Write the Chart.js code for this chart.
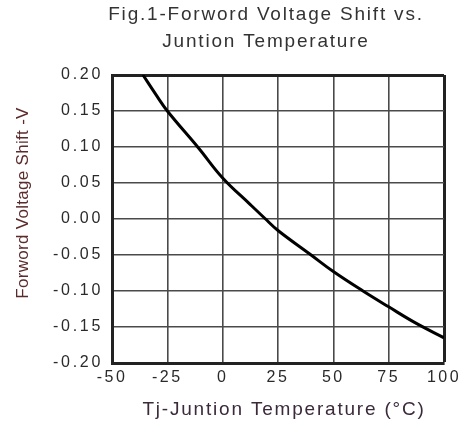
<!DOCTYPE html>
<html>
<head>
<meta charset="utf-8">
<script src="https://cdn.jsdelivr.net/npm/chart.js@4.4.1/dist/chart.umd.min.js"></script>
<style>
html,body{margin:0;padding:0;background:#fff;}
canvas{display:block;}
</style>
</head>
<body>
<canvas id="c" width="468" height="427"></canvas>
<script>
// ---- data ----
const titleLines = ['Fig.1-Forword Voltage Shift vs.', 'Juntion Temperature'];
const xAxisTitle = 'Tj-Juntion Temperature (°C)';
const yAxisTitle = 'Forword Voltage Shift -V';

const temperatures = [-36, -30, -25, -11, 0, 12.5, 19, 25, 39.5, 50, 63.4, 75, 87.5, 100];
const voltageShift = [0.200, 0.172, 0.150, 0.099, 0.057, 0.020, 0.001, -0.016, -0.049, -0.073, -0.100, -0.122, -0.145, -0.165];

const xTickValues = [-50, -25, 0, 25, 50, 75, 100];
const xTickLabels = ['-50', '-25', '0', '25', '50', '75', '100'];
const yTickValues = [-0.20, -0.15, -0.10, -0.05, 0.00, 0.05, 0.10, 0.15, 0.20];
const yTickLabels = ['-0.20', '-0.15', '-0.10', '-0.05', '0.00', '0.05', '0.10', '0.15', '0.20'];

const FONT = "'Liberation Sans', Arial, sans-serif";

function wrapDraw(obj, name, spacing, dx, dy) {
  const key = '__wrapped_' + name;
  if (obj[key]) return;
  obj[key] = true;
  const orig = obj[name];
  obj[name] = function (...args) {
    const ctx = this.ctx;
    ctx.save();
    try { ctx.letterSpacing = spacing; } catch (e) {}
    ctx.translate(dx, dy);
    const r = orig.apply(this, args);
    ctx.restore();
    return r;
  };
}

const textStylePlugin = {
  id: 'textStyle',
  afterLayout(chart) {
    const x = chart.scales.x, y = chart.scales.y;
    wrapDraw(x, 'drawLabels', '2.5px', 0, 0);
    wrapDraw(x, 'drawTitle', '1.8px', 6, 0);
    wrapDraw(y, 'drawLabels', '2.7px', 0, 0);
    wrapDraw(y, 'drawTitle', '0.3px', 0, -16);
    if (chart.titleBlock) wrapDraw(chart.titleBlock, 'draw', '1.8px', -12, 0);
  }
};

new Chart(document.getElementById('c'), {
  type: 'line',
  data: {
    datasets: [{
      data: temperatures.map((t, i) => ({ x: t, y: voltageShift[i] })),
      borderColor: '#000',
      borderWidth: 3,
      pointRadius: 0,
      fill: false,
      tension: 0.4
    }]
  },
  options: {
    responsive: false,
    animation: false,
    devicePixelRatio: 1,
    layout: { padding: { left: 6, right: 24, top: 0, bottom: 4 } },
    plugins: {
      legend: { display: false },
      tooltip: { enabled: false },
      title: {
        display: true,
        text: titleLines,
        fullSize: false,
        color: '#333',
        font: { family: FONT, size: 19, weight: 'normal', lineHeight: '27.5px' },
        padding: { top: 0.75, bottom: 19.25 }
      }
    },
    scales: {
      x: {
        type: 'linear',
        position: 'bottom',
        min: -50,
        max: 100,
        afterBuildTicks: s => { s.ticks = xTickValues.map(v => ({ value: v })); },
        afterFit: s => { s.height = 60; },
        ticks: {
          callback: (v, i) => xTickLabels[i],
          color: '#2a2a2a',
          font: { family: FONT, size: 16 },
          padding: 5,
          maxRotation: 0
        },
        grid: {
          drawTicks: false,
          color: c => (c.tick && c.tick.value === 100) ? '#222' : '#4a4a4a',
          lineWidth: c => (c.tick && c.tick.value === 100) ? 3 : 1.6
        },
        border: { display: true, color: '#222', width: 3 },
        title: {
          display: true,
          text: xAxisTitle,
          color: '#3a2a3a',
          font: { family: FONT, size: 19 },
          padding: { top: 0, bottom: 1.6 }
        }
      },
      y: {
        type: 'linear',
        min: -0.2,
        max: 0.2,
        afterBuildTicks: s => { s.ticks = yTickValues.map(v => ({ value: v })); },
        afterFit: s => { s.width = 106; },
        ticks: {
          callback: (v, i) => yTickLabels[i],
          color: '#2a2a2a',
          font: { family: FONT, size: 16 },
          padding: 9
        },
        grid: {
          drawTicks: false,
          color: c => (c.tick && Math.abs(c.tick.value - 0.2) < 1e-9) ? '#222' : '#4a4a4a',
          lineWidth: c => (c.tick && Math.abs(c.tick.value - 0.2) < 1e-9) ? 3 : 1.6
        },
        border: { display: true, color: '#222', width: 3 },
        title: {
          display: true,
          text: yAxisTitle,
          color: '#5b2b2b',
          font: { family: FONT, size: 17 },
          padding: { top: 7, bottom: 0 }
        }
      }
    }
  },
  plugins: [textStylePlugin]
});
</script>
</body>
</html>
